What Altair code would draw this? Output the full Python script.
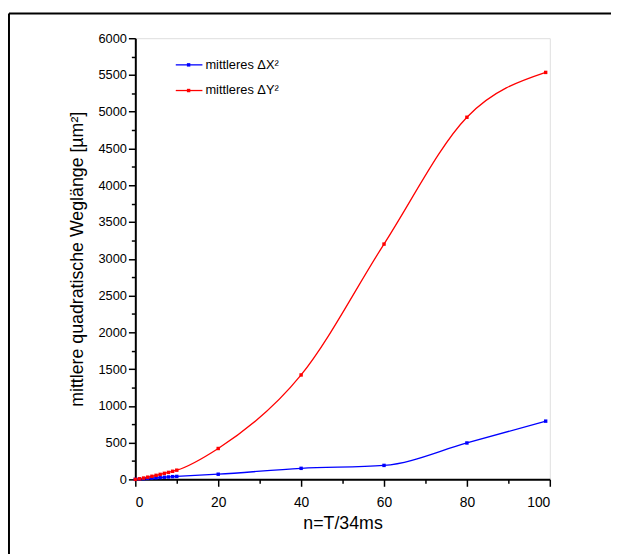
import altair as alt
import pandas as pd

n_vals = [0, 1, 2, 3, 4, 5, 6, 7, 8, 9, 10, 20, 40, 60, 80, 99]
dy2 = [0, 8, 18, 30, 42, 55, 68, 82, 95, 110, 125, 420, 1420, 3200, 4925, 5535]
dx2 = [0, 5, 9, 13, 17, 21, 25, 29, 33, 37, 40, 70, 150, 190, 495, 792]
series = ["mittleres ΔX²", "mittleres ΔY²"]
colors = ["#0000ff", "#ff0000"]

x_ticks = list(range(0, 101, 10))
y_ticks = list(range(0, 6001, 250))

FONT = "Liberation Sans Narrow, Arial Narrow, Liberation Sans, Arial"

rows = []
for n, v in zip(n_vals, dx2):
    rows.append({"n": n, "v": v, "s": series[0]})
for n, v in zip(n_vals, dy2):
    rows.append({"n": n, "v": v, "s": series[1]})
df = pd.DataFrame(rows)

color = alt.Color("s:N", scale=alt.Scale(domain=series, range=colors), legend=None)

x_enc = alt.X(
    "n:Q",
    scale=alt.Scale(domain=[0, 100], nice=False),
    axis=alt.Axis(
        title="n=T/34ms", values=x_ticks, grid=False, labelOverlap=False,
        labelExpr="datum.value % 20 == 0 ? datum.label : ''",
        tickSize={"condition": {"test": "datum.value % 20 == 0", "value": 7}, "value": 4},
        domainColor="black", domainWidth=2, tickColor="black", tickWidth=1.5,
        labelFont=FONT, labelFontSize=14, labelColor="black", labelPadding=9,
        titleFont=FONT, titleFontSize=18, titleFontWeight="normal", titleColor="black",
        titlePadding=6,
    ),
)
y_enc = alt.Y(
    "v:Q",
    scale=alt.Scale(domain=[0, 6000], nice=False),
    axis=alt.Axis(
        title="mittlere quadratische Weglänge [µm²]", values=y_ticks, grid=False,
        labelOverlap=False,
        labelExpr="datum.value % 500 == 0 ? datum.value : ''",
        tickSize={"condition": {"test": "datum.value % 500 == 0", "value": 7}, "value": 4},
        domainColor="black", domainWidth=2, tickColor="black", tickWidth=1.5,
        labelFont=FONT, labelFontSize=13, labelColor="black", labelPadding=2,
        titleFont=FONT, titleFontSize=18, titleFontWeight="normal", titleColor="black",
        titlePadding=12,
    ),
)

lines = alt.Chart(df).mark_line(
    interpolate="monotone", strokeWidth=1.3,
    point=alt.OverlayMarkDef(shape="square", filled=True, size=12, opacity=1),
).encode(x=x_enc, y=y_enc, color=color)

# legend (drawn manually, one row per series)
leg = pd.DataFrame({"s": series})
legend_layers = []
for i, (name, col) in enumerate(zip(series, colors)):
    yy = 27 + 26 * i
    base = alt.Chart(leg).transform_filter(alt.datum.s == name)
    legend_layers.append(base.mark_rule(strokeWidth=1.3, color=col).encode(
        x=alt.value(41), x2=alt.value(68), y=alt.value(yy)))
    legend_layers.append(base.mark_point(shape="square", filled=True, size=12, opacity=1, color=col).encode(
        x=alt.value(54), y=alt.value(yy)))
    legend_layers.append(base.mark_text(align="left", baseline="middle", font=FONT, fontSize=13, color="black").encode(
        x=alt.value(71), y=alt.value(yy), text="s:N"))

# outer frame (partial figure border)
frame_top = alt.Chart(leg.head(1)).mark_rule(color="black", strokeWidth=2).encode(
    x=alt.value(-128), x2=alt.value(482), y=alt.value(-25)
)
frame_left = alt.Chart(leg.head(1)).mark_rule(color="black", strokeWidth=2).encode(
    x=alt.value(-128), y=alt.value(-25), y2=alt.value(530)
)

chart = alt.layer(
    lines, frame_top, frame_left, *legend_layers
).properties(
    width=420, height=447,
    autosize=alt.AutoSizeParams(type="none"),
    padding={"left": 129, "top": 27, "right": 62, "bottom": 72},
).configure_view(stroke=None).configure(background="white")

chart.save("out.html", embed_options={"renderer": "svg", "actions": False})
